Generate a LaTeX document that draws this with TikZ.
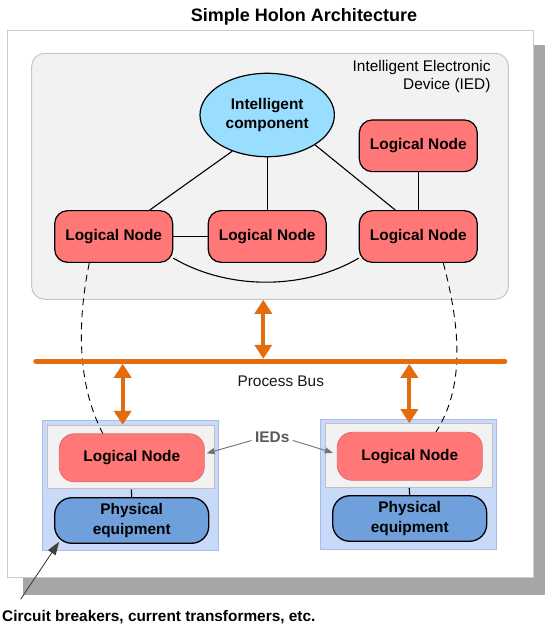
\documentclass[tikz,border=0pt]{standalone}
\usepackage{fontspec}
\setmainfont{Liberation Sans}
\usetikzlibrary{shapes.geometric,arrows.meta}
\definecolor{lnred}{RGB}{255,119,119}
\definecolor{lnedge}{RGB}{224,110,110}
\definecolor{icblue}{RGB}{153,221,255}
\definecolor{eqblue}{RGB}{111,160,220}
\definecolor{iedblue}{RGB}{201,218,248}
\definecolor{iededge}{RGB}{164,189,236}
\definecolor{panel}{RGB}{242,242,242}
\definecolor{paneledge}{RGB}{192,192,192}
\definecolor{busorange}{RGB}{226,108,14}
\def\lbfont{\fontsize{15.4}{19}\selectfont}

\begin{document}
\begin{tikzpicture}[x=1pt,y=-1pt,
	lnode/.style={draw=black,line width=1.2pt,fill=lnred,rounded corners=13pt,minimum width=118pt,minimum height=51.7pt,inner sep=0pt,font=\lbfont\bfseries},
	fieldln/.style={draw=lnedge,line width=0.8pt,fill=lnred,rounded corners=15pt,minimum width=145pt,minimum height=48pt,inner sep=0pt,font=\lbfont\bfseries},
	equip/.style={draw=black,line width=1.3pt,fill=eqblue,rounded corners=17pt,minimum width=154pt,minimum height=45.5pt,inner sep=0pt,align=center,font=\fontsize{15.4}{19.3}\selectfont\bfseries},
	fieldied/.style={draw=iededge,line width=1pt,fill=iedblue,minimum width=176pt,minimum height=130pt,inner sep=0pt},
	ldevice/.style={draw=paneledge,line width=1pt,fill=panel,minimum width=167pt,minimum height=63.6pt,inner sep=0pt},
	link/.style={line width=1.1pt},
	busarrow/.style={draw=busorange,line width=4pt,arrows={Triangle[length=14pt,width=17pt]-Triangle[length=14pt,width=17pt]}},
	pointer/.style={draw=black!55,line width=0.9pt,-{Triangle[length=8pt,width=6pt]}}]
				%%%%% START %%%%%
				\useasboundingbox (0,0) rectangle (545,628);

				\draw[black!35,line width=11pt] (539.5,45) -- (539.5,586.5) -- (22.7,586.5);
				\draw[black!35,line width=17pt] (22.7,586.5) -- (545,586.5);
				\draw[draw=black!20,line width=1.5pt,fill=white] (7.3,30.7) rectangle (533.7,577.3);

				\node[anchor=base,font=\fontsize{18}{20}\selectfont\bfseries] (title) at (304,21.5) {Simple Holon Architecture};

				\node[draw=black!22,line width=1pt,fill=panel,rounded corners=13pt,minimum width=476.6pt,minimum height=246pt,inner sep=0pt] (ied) at (270,176.3) {};
				\node[anchor=north east,inner sep=0pt,align=right,font=\fontsize{15.4}{17.7}\selectfont] (iedLbl) at (490.7,60.5) {Intelligent Electronic\\Device (IED)};

				\node[ellipse,draw=black,line width=1.2pt,fill=icblue,minimum width=134.4pt,minimum height=83.4pt,inner sep=0pt,align=center,font=\lbfont\bfseries] (ic) at (267.2,115) {Intelligent\\component};

				\node[lnode] (lnA) at (113.7,236.5) {Logical Node};
				\node[lnode] (lnB) at (267.2,236.5) {Logical Node};
				\node[lnode] (lnC) at (418.3,236.5) {Logical Node};
				\node[lnode] (lnD) at (418.3,145.8) {Logical Node};

				\draw[link] (ic.-134) -- ([xshift=36pt]lnA.north);
				\draw[link] (ic.south) -- (lnB.north);
				\draw[link] (ic.-32) -- ([xshift=-23pt]lnC.north);
				\draw[link] (lnD) -- (lnC);
				\draw[link] (lnA) -- (lnB);
				\draw[link] (lnA.-20) .. controls +(55,32) and +(-55,32) .. (lnC.-160);

				% field devices
				\node[fieldied] (iedA) at (130.85,485.7) {};
				\node[fieldied] (iedB) at (408.7,484.2) {};
				\node[ldevice] (grayA) at (131.35,457.15) {};
				\node[ldevice] (grayB) at (409.2,455.5) {};
				\node[fieldln] (lnE) at (131.8,457.8) {Logical Node};
				\node[fieldln] (lnF) at (409.8,456.3) {Logical Node};
				\node[equip] (phA) at (131.7,520.5) {Physical\\equipment};
				\node[equip] (phB) at (409.7,518.5) {Physical\\equipment};
				\draw[link] (grayA.south) -- (phA.north);
				\draw[link] (grayB.south) -- (phB.north);

				\draw[link,line width=0.9pt,dash pattern=on 7pt off 5pt] ([xshift=-24.4pt]lnA.south) .. controls +(-14,68) and +(-23,-44) .. ([xshift=-29pt]lnE.north);
				\draw[link,line width=0.9pt,dash pattern=on 7pt off 5pt] ([xshift=25pt]lnC.south) .. controls +(18,68) and +(28,-44) .. ([xshift=26.2pt]lnF.north);

				% process bus
				\coordinate (busW) at (35.8,361.3);
				\coordinate (busE) at (504.8,361.3);
				\coordinate (tapTop) at (263.3,358.8);
				\coordinate (tapA) at (122.7,363.8);
				\coordinate (tapB) at (409.3,363.8);
				\draw[busorange,line width=5pt,line cap=round] (busW) -- (busE);
				\draw[busarrow] (ied.south -| tapTop) -- (tapTop);
				\draw[busarrow] (tapA) -- (grayA.north -| tapA);
				\draw[busarrow] (tapB) -- (grayB.north -| tapB);
				\node[anchor=base,font=\lbfont,text=black!90] (busLbl) at (280.8,386) {Process Bus};

				\node[anchor=base,font=\lbfont\bfseries,text=black!65] (iedsLbl) at (272.2,442.7) {IEDs};
				\draw[pointer] ([yshift=-3pt]iedsLbl.west) -- ([xshift=2pt,yshift=4.5pt]lnE.east);
				\draw[pointer] ([yshift=-3pt]iedsLbl.east) -- ([xshift=-4pt,yshift=3.5pt]lnF.west);

				\node[anchor=base west,inner sep=0pt,font=\lbfont\bfseries] (cbLbl) at (2,621.5) {Circuit breakers, current transformers, etc.};
				\draw[draw=black!75,line width=0.9pt,-{Triangle[length=13pt,width=9pt]}] ([shift={(18.7pt,11pt)}]cbLbl.north west) -- ([xshift=5pt,yshift=2pt]phA.south west);
				%%%%% START %%%%%
\end{tikzpicture}
\end{document}
